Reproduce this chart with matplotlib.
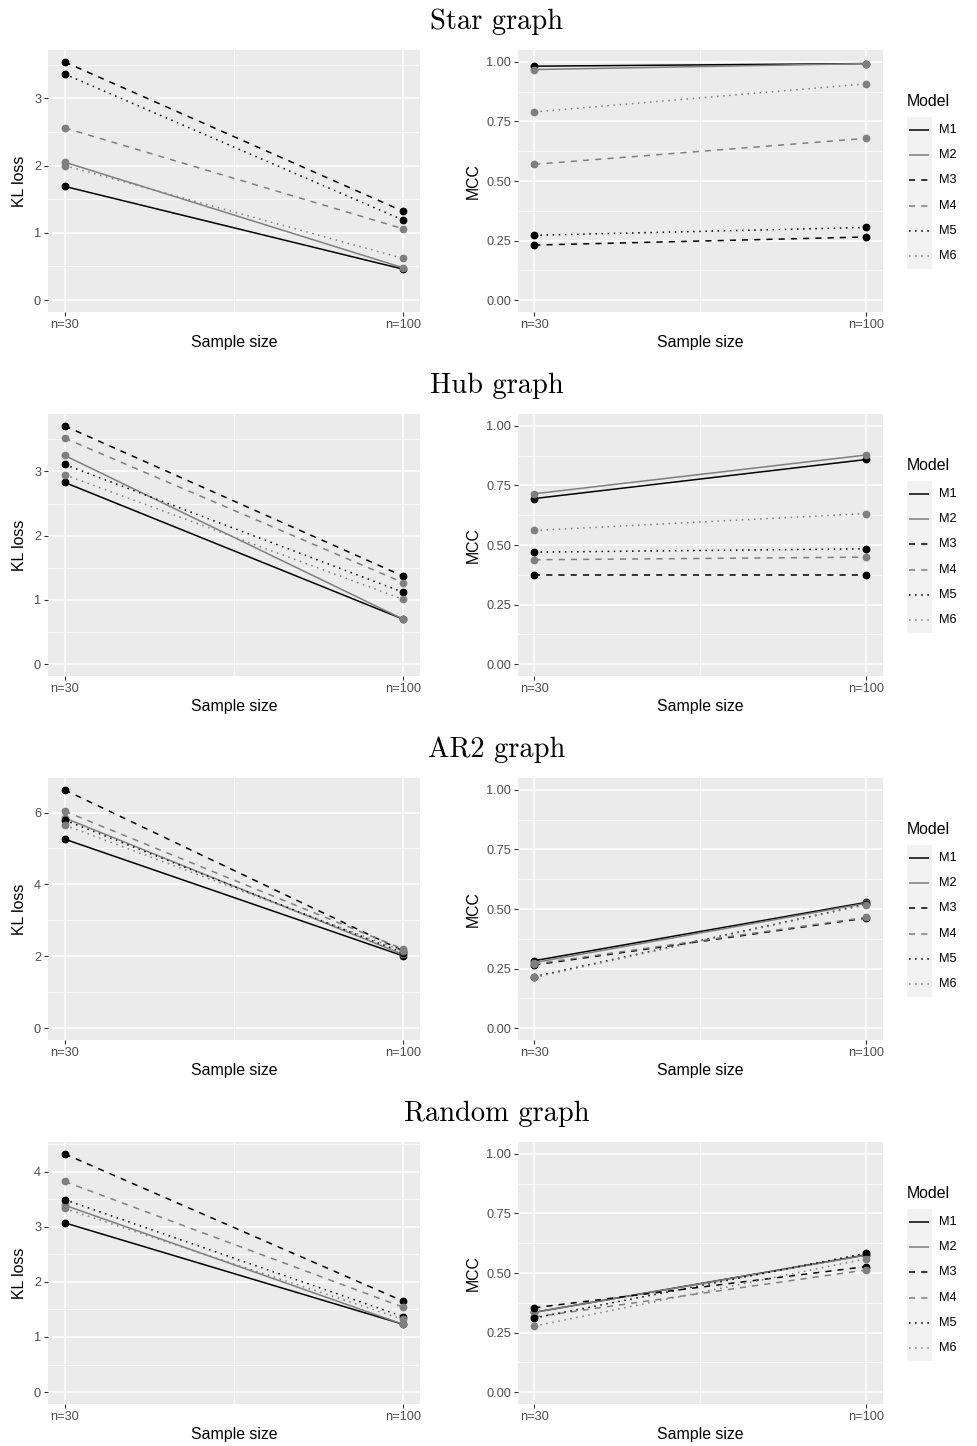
import matplotlib
matplotlib.use("Agg")
import matplotlib.pyplot as plt
from matplotlib.ticker import MultipleLocator, FixedLocator

# ---- data -------------------------------------------------------------
models = ["M1", "M2", "M3", "M4", "M5", "M6"]
sample_sizes = [30, 100]
size_labels = ["n=30", "n=100"]
graph_titles = ["Star graph", "Hub graph", "AR2 graph", "Random graph"]

# KL loss, one [n=30, n=100] pair per model
star_kl = [[1.69, 0.46], [2.05, 0.48], [3.54, 1.32], [2.56, 1.06], [3.36, 1.19], [2.00, 0.62]]
hub_kl = [[2.83, 0.70], [3.25, 0.70], [3.71, 1.37], [3.52, 1.27], [3.11, 1.12], [2.95, 1.01]]
ar2_kl = [[5.26, 2.01], [5.85, 2.05], [6.63, 2.15], [6.04, 2.20], [5.79, 2.10], [5.65, 2.15]]
random_kl = [[3.07, 1.23], [3.39, 1.23], [4.32, 1.65], [3.82, 1.54], [3.49, 1.37], [3.33, 1.32]]

# MCC, one [n=30, n=100] pair per model
star_mcc = [[0.982, 0.993], [0.968, 0.993], [0.231, 0.265], [0.570, 0.679], [0.272, 0.305], [0.790, 0.908]]
hub_mcc = [[0.695, 0.859], [0.715, 0.878], [0.372, 0.372], [0.438, 0.449], [0.470, 0.484], [0.561, 0.632]]
ar2_mcc = [[0.283, 0.528], [0.275, 0.524], [0.265, 0.462], [0.269, 0.465], [0.216, 0.520], [0.213, 0.518]]
random_mcc = [[0.335, 0.576], [0.335, 0.575], [0.354, 0.527], [0.315, 0.513], [0.311, 0.583], [0.277, 0.560]]

kl_data = [star_kl, hub_kl, ar2_kl, random_kl]
mcc_data = [star_mcc, hub_mcc, ar2_mcc, random_mcc]
kl_steps = [1, 1, 2, 1]

# ---- styling ------------------------------------------------------------
BLACK = "#000000"
GREY = "#7F7F7F"
model_colors = [BLACK, GREY, BLACK, GREY, BLACK, GREY]
model_dashes = [None, None, (4, 4), (4, 4), (1, 3), (1, 3)]

PANEL_BG = "#EBEBEB"
KEY_BG = "#F2F2F2"
TICK_COL = "#4D4D4D"
SANS = ["Liberation Sans", "DejaVu Sans"]
LW = 1.1
TICK_FS = 9.2
LABEL_FS = 11.4
KEY_FS = 9.2
TITLE_FS = 20.5

W, H = 978, 1446
fig = plt.figure(figsize=(W / 100, H / 100), dpi=100)
fig.patch.set_facecolor("white")


def px_axes(x0, y0, x1, y1):
    return fig.add_axes([x0 / W, 1 - y1 / H, (x1 - x0) / W, (y1 - y0) / H])


def style_panel(ax, ymax, ystep, yfmt):
    ax.set_facecolor(PANEL_BG)
    for s in ax.spines.values():
        s.set_visible(False)
    xr = sample_sizes[1] - sample_sizes[0]
    ax.set_xlim(sample_sizes[0] - 0.05 * xr, sample_sizes[1] + 0.05 * xr)
    ax.set_ylim(-0.05 * ymax, ymax * 1.05)
    ax.xaxis.set_major_locator(FixedLocator(sample_sizes))
    ax.set_xticklabels(size_labels)
    ax.xaxis.set_minor_locator(FixedLocator([(sample_sizes[0] + sample_sizes[1]) / 2]))
    ax.yaxis.set_major_locator(MultipleLocator(ystep))
    ax.yaxis.set_minor_locator(MultipleLocator(ystep / 2))
    ax.yaxis.set_major_formatter(yfmt)
    ax.grid(which="major", color="white", lw=1.1)
    ax.grid(which="minor", color="white", lw=0.55)
    ax.set_axisbelow(True)
    ax.tick_params(which="major", length=2.75, width=0.8, color="#333333",
                   labelcolor=TICK_COL, labelsize=TICK_FS, pad=2)
    ax.tick_params(which="minor", length=0)
    for lab in ax.get_xticklabels() + ax.get_yticklabels():
        lab.set_family(SANS)


def draw_series(ax, series):
    for vals, col, dash in zip(series, model_colors, model_dashes):
        line, = ax.plot(sample_sizes, vals, color=col, lw=LW, marker="o",
                        ms=4.6, mec=col, mfc=col, solid_capstyle="butt")
        if dash is not None:
            line.set_dashes(dash)


def draw_legend(top):
    lax = px_axes(906.7, top + 67, 931.7, top + 219)
    lax.set_facecolor(KEY_BG)
    for s in lax.spines.values():
        s.set_visible(False)
    lax.set_xticks([])
    lax.set_yticks([])
    lax.set_xlim(0, 1)
    lax.set_ylim(len(models), 0)
    for i, (name, col, dash) in enumerate(zip(models, model_colors, model_dashes)):
        line, = lax.plot([0.1, 0.9], [i + 0.5, i + 0.5], color=col, lw=LW,
                         solid_capstyle="butt")
        if dash is not None:
            line.set_dashes(dash)
        lax.text(1.3, i + 0.5, name, fontsize=KEY_FS, family=SANS, color="black",
                 va="center", ha="left", clip_on=False)
    lax.text(0.0, -0.6, "Model", fontsize=LABEL_FS, family=SANS, color="black",
             va="center", ha="left", clip_on=False)


ROW_STEP = 364
PANEL_H = 262
XLAB_OFF = -31 / PANEL_H
for r in range(4):
    top = 50 + r * ROW_STEP
    bottom = top + PANEL_H

    fig.text(497 / W, 1 - (22 + r * ROW_STEP) / H, graph_titles[r],
             fontsize=TITLE_FS, family="cmr10", ha="center", va="center")

    # KL loss panel
    axl = px_axes(47.7, top, 420, bottom)
    kl = kl_data[r]
    kl_max = max(max(v) for v in kl)
    style_panel(axl, kl_max, kl_steps[r], "{x:g}")
    draw_series(axl, kl)
    axl.text((20 - 47.7) / 372.3, 0.5, "KL loss", rotation=90, fontsize=LABEL_FS,
             family=SANS, transform=axl.transAxes, ha="center", va="center")
    axl.text(0.5, XLAB_OFF, "Sample size", fontsize=LABEL_FS,
             family=SANS, transform=axl.transAxes, ha="center", va="center")

    # MCC panel
    axr = px_axes(517.7, top, 883, bottom)
    style_panel(axr, 1.0, 0.25, "{x:.2f}")
    draw_series(axr, mcc_data[r])
    axr.text((473 - 517.7) / 365.3, 0.5, "MCC", rotation=90, fontsize=LABEL_FS,
             family=SANS, transform=axr.transAxes, ha="center", va="center")
    axr.text(0.5, XLAB_OFF, "Sample size", fontsize=LABEL_FS,
             family=SANS, transform=axr.transAxes, ha="center", va="center")

    draw_legend(top)

fig.savefig("out.png", dpi=100, facecolor="white")
